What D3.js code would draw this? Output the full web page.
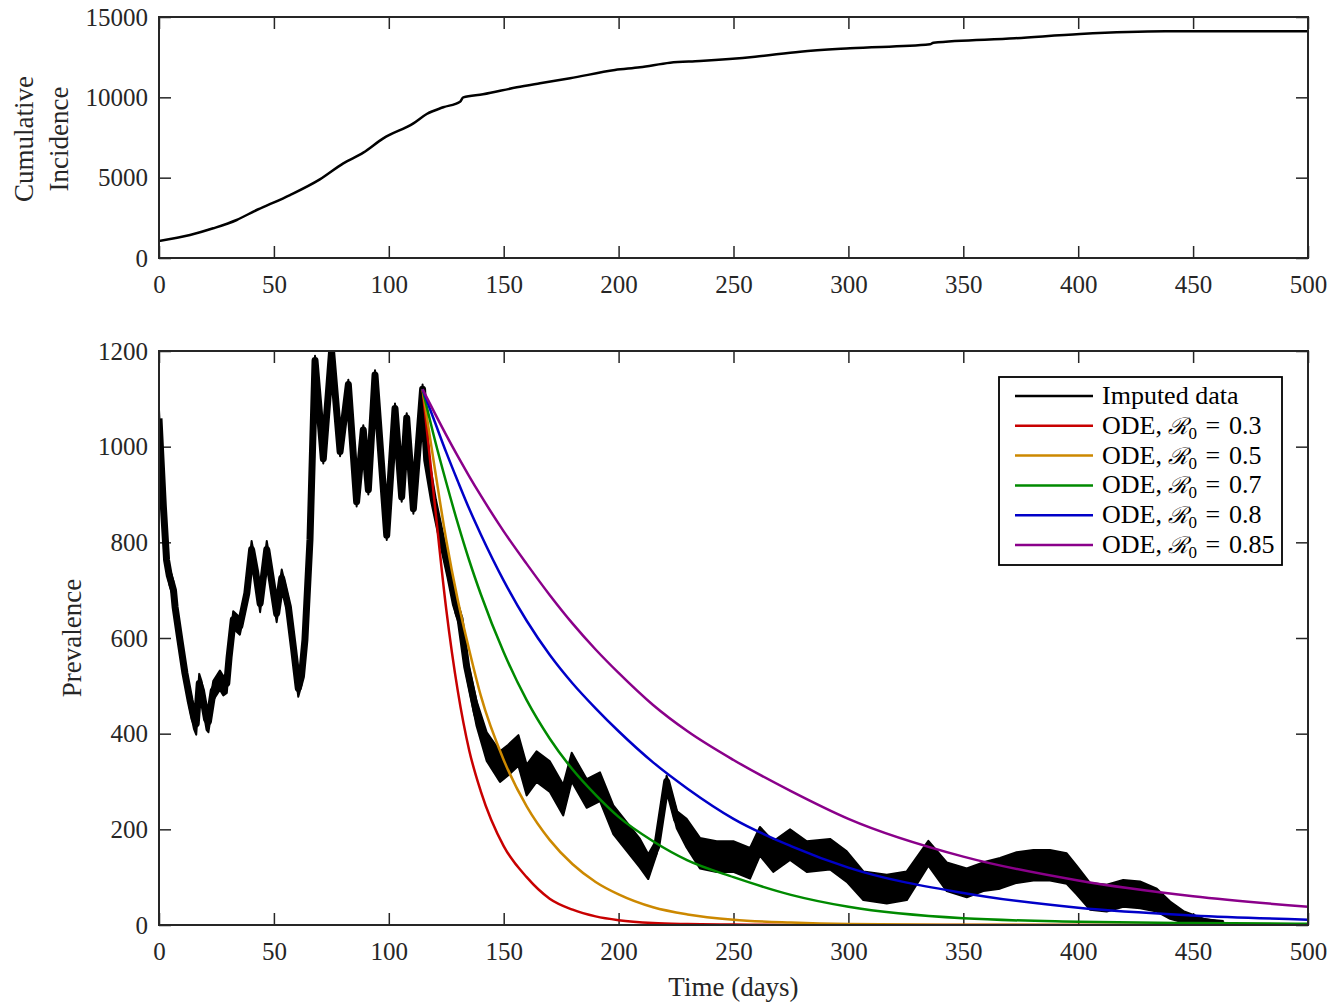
<!DOCTYPE html>
<html>
<head>
<meta charset="utf-8">
<script src="https://cdn.jsdelivr.net/npm/d3@7"></script>
<style>
  body { margin: 0; background: #fff; }
  text { font-family: "Liberation Serif", "DejaVu Serif", serif; }
</style>
</head>
<body>
<div class="canva"></div>
<script>
// ---- data ----
const xTicks = [0, 50, 100, 150, 200, 250, 300, 350, 400, 450, 500];
const cumTicks = [0, 5000, 10000, 15000];
const prevTicks = [0, 200, 400, 600, 800, 1000, 1200];

// cumulative incidence [day, cases]
const cumInc = [
  [0, 1058], [13.5, 1431], [23.6, 1848], [33.8, 2365], [42.5, 2988], [49.8, 3444],
  [57, 3921], [70, 4896], [80.2, 5891], [88.9, 6556], [97.6, 7448], [110.7, 8381],
  [116.5, 8963], [123.7, 9380], [131, 9730], [132.4, 10000], [141, 10188],
  [155.7, 10624], [165.8, 10873], [178.9, 11183], [198.4, 11701], [209.3, 11867],
  [222.4, 12156], [235.4, 12261], [259.4, 12529], [279, 12840], [300.7, 13051],
  [335.5, 13300], [337, 13404], [372.5, 13674], [400.8, 13941], [437.8, 14108], [500, 14108]
];

// imputed prevalence [day, centre, half spread of the noisy band]
const imputed = [
  [0, 1059, 18], [1.9, 875, 18], [3.3, 763, 18], [4.5, 730, 18], [5.5, 714, 18], [6.3, 700, 18],
  [7, 665, 18], [9.1, 596, 18], [11.3, 526, 18], [13.5, 470, 20], [15.2, 432, 22], [16.2, 420, 22],
  [17.5, 505, 20], [18.5, 490, 20], [20.7, 430, 22], [21.5, 425, 22], [23.6, 490, 20], [26.5, 512, 20],
  [28, 500, 20], [29.5, 505, 20], [30.5, 560, 18], [32.3, 638, 18], [35.2, 625, 18], [38.2, 693, 18],
  [40.3, 785, 18], [42, 740, 18], [44, 672, 18], [46.9, 785, 18], [49, 720, 18], [51.2, 651, 18],
  [53.4, 725, 18], [56.3, 665, 18], [58.5, 580, 18], [60.6, 495, 18], [62, 520, 18], [63.5, 596, 18],
  [65.7, 805, 14], [67.9, 1180, 10], [71.5, 975, 10], [75.1, 1200, 10], [78.8, 990, 10],
  [82.4, 1130, 10], [86, 885, 10], [88.9, 1035, 10], [91.1, 910, 10], [94, 1150, 10], [99.1, 815, 10],
  [102.7, 1080, 10], [105.6, 895, 10], [107.8, 1060, 10], [110.7, 870, 10], [114.7, 1120, 10],
  [116.5, 972, 18], [119.4, 889, 18], [123.7, 791, 18], [126.6, 728, 18], [129, 670, 18],
  [131, 640, 18], [133.9, 540, 20], [138.2, 442, 26], [142.6, 373, 30], [148.4, 331, 32],
  [152, 345, 32], [156.4, 365, 32], [160, 303, 32], [164.3, 331, 32], [170.1, 310, 32],
  [175.9, 261, 32], [179.6, 330, 30], [186.1, 275, 30], [191.9, 289, 30], [197.7, 220, 30],
  [203.5, 185, 30], [209.3, 150, 30], [212.9, 122, 26], [216.6, 164, 15], [220.9, 300, 12],
  [225.3, 220, 18], [229.6, 192, 30], [235.4, 150, 32], [242.7, 143, 32], [249.9, 143, 32],
  [257.2, 129, 32], [261.5, 175, 30], [267.3, 143, 32], [274.6, 168, 32], [281.9, 143, 32],
  [292, 148, 32], [299.3, 122, 32], [306.5, 82, 30], [316.7, 75, 30], [325.4, 82, 30],
  [334.8, 150, 26], [342.8, 101, 30], [351.5, 88, 30], [358.7, 101, 30], [366, 108, 32],
  [373.2, 120, 32], [380.5, 125, 32], [387.7, 125, 32], [395, 118, 32], [399.3, 94, 30],
  [405.1, 60, 28], [412.4, 56, 28], [419.6, 66, 28], [426.9, 63, 28], [434.2, 52, 24],
  [440, 31, 18], [445.8, 17, 12], [454.5, 7, 6], [463.2, 3, 3]
];

// ODE runs, all sampled on the same days
const odeDays = [114.7, 120, 125, 130, 135, 140, 150, 160, 170, 180, 190, 200, 215, 230, 250, 275, 300, 350, 400, 450, 500];
const odeR03  = [1120, 880, 660, 490, 365, 280, 165, 100, 55, 32, 18, 10, 4, 2, 1, 0, 0, 0, 0, 0, 0];
const odeR05  = [1120, 955, 805, 680, 575, 480, 345, 248, 178, 127, 90, 64, 37, 22, 11, 5, 2, 0.5, 0, 0, 0];
const odeR07  = [1120, 1015, 925, 840, 762, 692, 570, 470, 390, 325, 272, 226, 175, 135, 100, 63, 38, 14, 7, 4, 2.5];
const odeR08  = [1120, 1052, 988, 928, 870, 817, 720, 636, 565, 505, 453, 405, 340, 285, 222, 165, 120, 67, 36, 20, 11];
const odeR085 = [1120, 1070, 1024, 980, 938, 898, 823, 755, 690, 630, 576, 527, 460, 405, 345, 280, 222, 143, 93, 60, 38];

const series = [
  { r0: '0.3',  vals: odeR03,  color: '#c80000' },
  { r0: '0.5',  vals: odeR05,  color: '#cc8800' },
  { r0: '0.7',  vals: odeR07,  color: '#008a00' },
  { r0: '0.8',  vals: odeR08,  color: '#0000c8' },
  { r0: '0.85', vals: odeR085, color: '#8a008a' }
];

// ---- layout ----
const W = 1332, H = 1005;
const left = 159, right = 1308;
const top1 = 17, bot1 = 258;
const top2 = 351, bot2 = 925;
const axisCol = '#262626';
const serif = '"Liberation Serif", "DejaVu Serif", serif';

const svg = d3.select('.canva').append('svg')
  .attr('width', W).attr('height', H)
  .style('background', '#fff');

const pw = right - left;

function frame(g, x, y, h, yTicks, id) {
  const style = sel => {
    sel.select('.domain').remove();
    sel.attr('font-family', null).style('font-family', serif);
    sel.selectAll('line').attr('stroke', axisCol).attr('stroke-width', 1.5);
    sel.selectAll('text').attr('font-size', 25).attr('fill', axisCol)
      .style('font-family', serif);
  };
  g.append('g').attr('transform', `translate(0,${h})`)
    .call(d3.axisBottom(x).tickValues(xTicks).tickSize(-12).tickSizeOuter(0).tickPadding(17))
    .call(style);
  g.append('g')
    .call(d3.axisTop(x).tickValues(xTicks).tickSize(-12).tickSizeOuter(0).tickFormat(''))
    .call(style);
  g.append('g')
    .call(d3.axisLeft(y).tickValues(yTicks).tickSize(-12).tickSizeOuter(0).tickPadding(11).tickFormat(d3.format('d')))
    .call(style);
  g.append('g').attr('transform', `translate(${pw},0)`)
    .call(d3.axisRight(y).tickValues(yTicks).tickSize(-12).tickSizeOuter(0).tickFormat(''))
    .call(style);

  g.append('clipPath').attr('id', id)
    .append('rect').attr('width', pw).attr('height', h);
}

function box(g, h) {
  g.append('rect').attr('width', pw).attr('height', h)
    .attr('fill', 'none').attr('stroke', axisCol).attr('stroke-width', 2);
}

// ---- top panel: cumulative incidence ----
const h1 = bot1 - top1;
const g1 = svg.append('g').attr('transform', `translate(${left},${top1})`);
const x1 = d3.scaleLinear().domain([0, 500]).range([0, pw]);
const y1 = d3.scaleLinear().domain([0, 15000]).range([h1, 0]);
frame(g1, x1, y1, h1, cumTicks, 'clip1');

g1.append('path')
  .datum(cumInc)
  .attr('clip-path', 'url(#clip1)')
  .attr('fill', 'none')
  .attr('stroke', '#000')
  .attr('stroke-width', 2.5)
  .attr('stroke-linejoin', 'round')
  .attr('d', d3.line().x(d => x1(d[0])).y(d => y1(d[1])).curve(d3.curveMonotoneX));
box(g1, h1);

svg.append('text')
  .attr('transform', `translate(33,139) rotate(-90)`)
  .attr('text-anchor', 'middle').attr('font-size', 27).attr('fill', axisCol)
  .text('Cumulative');
svg.append('text')
  .attr('transform', `translate(68,139) rotate(-90)`)
  .attr('text-anchor', 'middle').attr('font-size', 27).attr('fill', axisCol)
  .text('Incidence');

// ---- bottom panel: prevalence ----
const h2 = bot2 - top2;
const g2 = svg.append('g').attr('transform', `translate(${left},${top2})`);
const x2 = d3.scaleLinear().domain([0, 500]).range([0, pw]);
const y2 = d3.scaleLinear().domain([0, 1200]).range([h2, 0]);
frame(g2, x2, y2, h2, prevTicks, 'clip2');

const plot = g2.append('g').attr('clip-path', 'url(#clip2)');

// noisy band of the imputed data
plot.append('path')
  .datum(imputed)
  .attr('fill', '#000')
  .attr('stroke', '#000')
  .attr('stroke-width', 2)
  .attr('stroke-linejoin', 'round')
  .attr('d', d3.area()
    .x(d => x2(d[0]))
    .y0(d => y2(Math.max(0, d[1] - d[2])))
    .y1(d => y2(d[1] + d[2])));

// thick centre trace so steep parts keep their width
plot.append('path')
  .datum(imputed)
  .attr('fill', 'none')
  .attr('stroke', '#000')
  .attr('stroke-width', 7)
  .attr('stroke-linejoin', 'round')
  .attr('d', d3.line().x(d => x2(d[0])).y(d => y2(d[1])));

const odeLine = d3.line()
  .x(d => x2(d[0]))
  .y(d => y2(d[1]))
  .curve(d3.curveMonotoneX);

series.forEach(s => {
  plot.append('path')
    .datum(odeDays.map((t, i) => [t, s.vals[i]]))
    .attr('fill', 'none')
    .attr('stroke', s.color)
    .attr('stroke-width', 2.5)
    .attr('d', odeLine);
});
box(g2, h2);

svg.append('text')
  .attr('transform', `translate(81,638) rotate(-90)`)
  .attr('text-anchor', 'middle').attr('font-size', 27).attr('fill', axisCol)
  .text('Prevalence');
svg.append('text')
  .attr('x', (left + right) / 2).attr('y', 996)
  .attr('text-anchor', 'middle').attr('font-size', 27).attr('fill', axisCol)
  .text('Time (days)');

// ---- legend ----
const leg = svg.append('g').attr('transform', 'translate(999,377)');
leg.append('rect').attr('width', 283).attr('height', 188)
  .attr('fill', '#fff').attr('stroke', '#000').attr('stroke-width', 1.8);

const entries = [{ r0: null, color: '#000' }].concat(series);
entries.forEach((e, i) => {
  const cy = 19 + i * 29.8;
  leg.append('line').attr('x1', 16).attr('x2', 94).attr('y1', cy).attr('y2', cy)
    .attr('stroke', e.color).attr('stroke-width', 2.5);
  const t = leg.append('text').attr('x', 103).attr('y', cy + 8)
    .attr('font-size', 26).attr('fill', '#000');
  if (!e.r0) {
    t.text('Imputed data');
  } else {
    t.append('tspan').text('ODE, ');
    t.append('tspan').style('font-family', '"DejaVu Serif", serif').attr('font-style', 'italic').attr('font-size', 23).text('\u211B');
    t.append('tspan').attr('font-size', 17).attr('dy', 5).text('0');
    t.append('tspan').attr('dy', -5).text('\u2004=\u2004' + e.r0);
  }
});
</script>
</body>
</html>
